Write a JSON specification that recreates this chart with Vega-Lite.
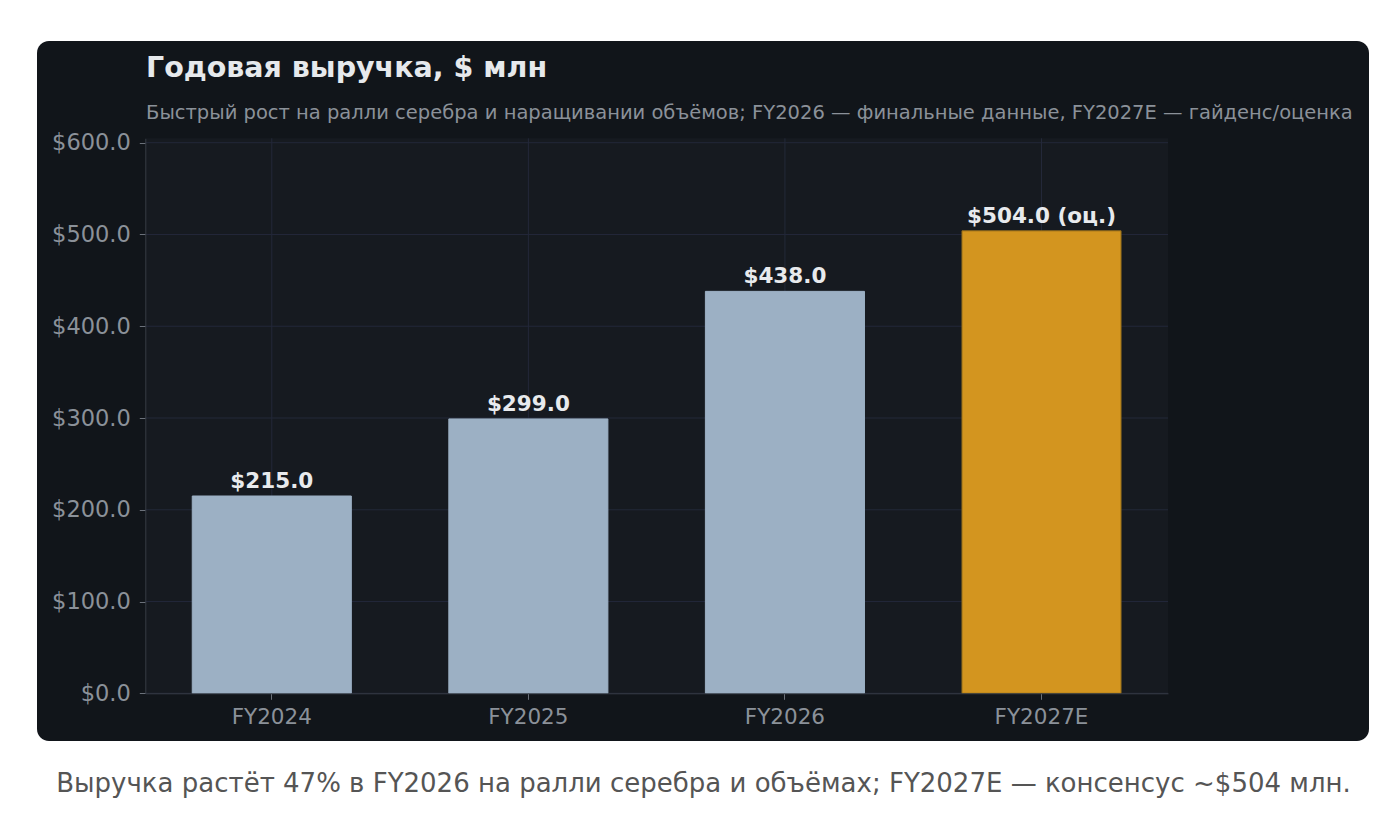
{
  "$schema": "https://vega.github.io/schema/vega-lite/v6.json",
  "width": 1332,
  "height": 700,
  "autosize": {"type": "none"},
  "padding": {"left": 37, "top": 41, "right": 27, "bottom": 84},
  "background": "#ffffff",
  "config": {
    "view": {"fill": "#11151a", "stroke": null, "cornerRadius": 12},
    "font": "DejaVu Sans"
  },
  "title": {
    "text": "Годовая выручка, $ млн",
    "subtitle": "Быстрый рост на ралли серебра и наращивании объёмов; FY2026 — финальные данные, FY2027E — гайденс/оценка",
    "anchor": "start",
    "frame": "group",
    "offset": -82,
    "dx": 109,
    "dy": -1,
    "font": "DejaVu Sans",
    "fontSize": 28.5,
    "fontWeight": "bold",
    "color": "#e6e9ec",
    "subtitleFont": "DejaVu Sans",
    "subtitleFontSize": 19.5,
    "subtitleColor": "#8b9199",
    "subtitlePadding": 21
  },
  "datasets": {
    "rev": [
      {"year": "FY2024", "revenue": 215.0, "kind": "Факт", "label": "$215.0"},
      {"year": "FY2025", "revenue": 299.0, "kind": "Факт", "label": "$299.0"},
      {"year": "FY2026", "revenue": 438.0, "kind": "Факт", "label": "$438.0"},
      {"year": "FY2027E", "revenue": 504.0, "kind": "Оценка", "label": "$504.0 (оц.)"}
    ],
    "grid": [{"v": 0}, {"v": 100}, {"v": 200}, {"v": 300}, {"v": 400}, {"v": 500}, {"v": 600}]
  },
  "layer": [
    {
      "data": {"values": [{}]},
      "mark": {"type": "rect", "fill": "#161a20"},
      "encoding": {
        "x": {"datum": 0, "type": "quantitative", "scale": {"domain": [0, 1], "range": [108.3, 1131], "nice": false, "zero": false}, "axis": null},
        "x2": {"datum": 1},
        "y": {"datum": 0, "type": "quantitative", "scale": {"domain": [0, 604.8], "range": [652.3, 97.3], "nice": false, "zero": false}},
        "y2": {"datum": 604.8}
      }
    },
    {
      "data": {"name": "grid"},
      "mark": {"type": "rule", "color": "#232839", "strokeWidth": 1},
      "encoding": {
        "x": {"datum": 0, "type": "quantitative", "scale": {"domain": [0, 1], "range": [108.3, 1131], "nice": false, "zero": false}, "axis": null},
        "x2": {"datum": 1},
        "y": {"field": "v", "type": "quantitative"}
      }
    },
    {
      "data": {"name": "rev"},
      "mark": {"type": "rule", "color": "#232839", "strokeWidth": 1},
      "encoding": {
        "x": {"field": "year", "type": "nominal", "sort": null, "scale": {"type": "band", "range": [108.3, 1131], "paddingInner": 0.38, "paddingOuter": 0.183}, "axis": null},
        "y": {"datum": 0, "type": "quantitative"},
        "y2": {"datum": 604.8}
      }
    },
    {
      "data": {"name": "rev"},
      "mark": {"type": "bar", "strokeWidth": 1},
      "encoding": {
        "x": {
          "field": "year",
          "type": "nominal",
          "sort": null,
          "scale": {"type": "band", "range": [108.3, 1131], "paddingInner": 0.38, "paddingOuter": 0.183},
          "axis": {
            "orient": "bottom",
            "offset": -47.7,
            "grid": false,
            "zindex": 1,
            "labelAngle": 0,
            "domainColor": "#363b44",
            "tickColor": "#6b717a",
            "tickSize": 6,
            "labelColor": "#8b9199",
            "labelFontSize": 21.5,
            "labelPadding": 7,
            "labelLimit": 300,
            "title": "Выручка растёт 47% в FY2026 на ралли серебра и объёмах; FY2027E — консенсус ~$504 млн.",
            "titleX": 666,
            "titleY": 98.4,
            "titleAlign": "center",
            "titleBaseline": "alphabetic",
            "titleFontSize": 26,
            "titleFontWeight": "normal",
            "titleColor": "#555555",
            "titleLimit": 2000
          }
        },
        "y": {
          "field": "revenue",
          "type": "quantitative",
          "axis": {
            "orient": "left",
            "offset": -108.3,
            "grid": false,
            "zindex": 1,
            "values": [0, 100, 200, 300, 400, 500, 600],
            "format": "$.1f",
            "domainColor": "#363b44",
            "tickColor": "#6b717a",
            "tickSize": 6,
            "labelColor": "#8b9199",
            "labelFontSize": 22.5,
            "labelPadding": 9,
            "title": null
          }
        },
        "color": {"field": "kind", "type": "nominal", "scale": {"domain": ["Факт", "Оценка"], "range": ["#9cb0c4", "#d3951f"]}, "legend": null},
        "stroke": {"field": "kind", "type": "nominal", "scale": {"domain": ["Факт", "Оценка"], "range": ["#9cb0c4", "#8f6a1c"]}, "legend": null}
      }
    },
    {
      "data": {"name": "rev"},
      "mark": {"type": "text", "fontWeight": "bold", "fontSize": 21.5, "color": "#e8eaed", "baseline": "alphabetic", "align": "center", "dy": -8},
      "encoding": {
        "x": {"field": "year", "type": "nominal", "sort": null, "scale": {"type": "band", "range": [108.3, 1131], "paddingInner": 0.38, "paddingOuter": 0.183}, "axis": null},
        "y": {"field": "revenue", "type": "quantitative"},
        "text": {"field": "label", "type": "nominal"}
      }
    }
  ],
  "resolve": {"scale": {"x": "independent"}}
}
